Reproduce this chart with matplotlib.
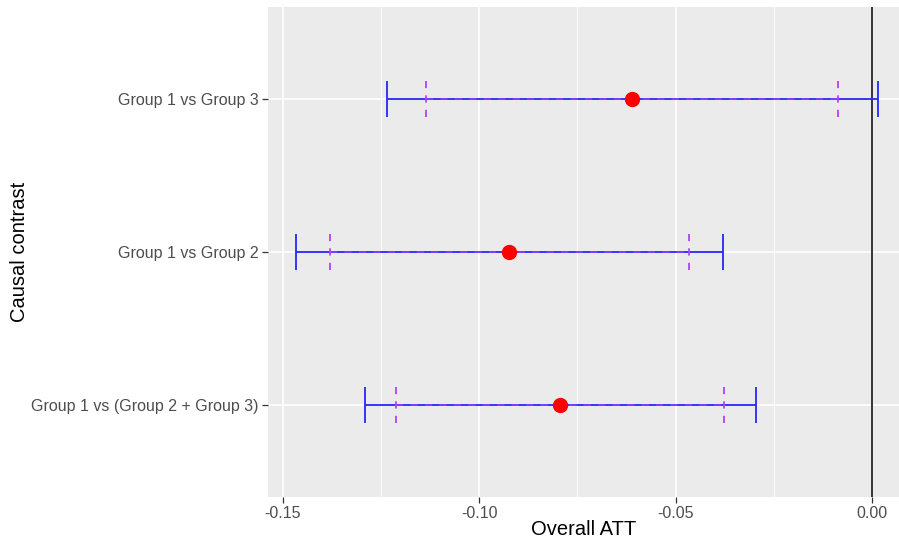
import matplotlib
matplotlib.use("Agg")
import matplotlib.pyplot as plt
import numpy as np

plt.rcParams['font.family'] = ['Liberation Sans', 'DejaVu Sans']

contrasts = ["Group 1 vs (Group 2 + Group 3)", "Group 1 vs Group 2", "Group 1 vs Group 3"]
att = [-0.0794, -0.0923, -0.0611]
ci_low = [-0.1291, -0.1466, -0.1236]
ci_high = [-0.0296, -0.0380, 0.0015]
ci_inner_low = [-0.1212, -0.1380, -0.1135]
ci_inner_high = [-0.0377, -0.0467, -0.0087]
x_ticks = [-0.15, -0.10, -0.05, 0.00]
x_tick_labels = ["-0.15", "-0.10", "-0.05", "0.00"]

fig = plt.figure(figsize=(8.99, 5.42), dpi=100)
ax = fig.add_axes([268/899, 45.5/542, 1 - 268/899, (535 - 45.5)/542])
ax.set_facecolor('#EBEBEB')
for s in ax.spines.values():
    s.set_visible(False)

y = np.arange(1, len(contrasts) + 1)
ax.set_xlim(-0.1538, 0.0069)
ax.set_ylim(0.4, 3.6)

# grid
minor = [-0.125, -0.075, -0.025]
for m in minor:
    ax.axvline(m, color='white', lw=0.6, zorder=0.5)
for t in x_ticks:
    ax.axvline(t, color='white', lw=1.2, zorder=0.6)
for yy in y:
    ax.axhline(yy, color='white', lw=1.2, zorder=0.6)

ax.axvline(0, color='black', lw=1.1, zorder=1)

cap = 0.118
blue = (0.15, 0.15, 1.0)
purple = (0.72, 0.25, 1.0)
ax.hlines(y, ci_low, ci_high, color=blue, lw=1.3, zorder=2)
ax.vlines(ci_low, y - cap, y + cap, color=blue, lw=1.3, zorder=2)
ax.vlines(ci_high, y - cap, y + cap, color=blue, lw=1.3, zorder=2)
ax.hlines(y, ci_inner_low, ci_inner_high, color=purple, lw=1.3, linestyles=(0, (4, 4)), alpha=0.6, zorder=2.5)
ax.vlines(ci_inner_low, y - cap, y + cap, color=purple, lw=1.3, linestyles=(0, (4, 4)), zorder=2.5)
ax.vlines(ci_inner_high, y - cap, y + cap, color=purple, lw=1.3, linestyles=(0, (4, 4)), zorder=2.5)
ax.plot(att, y, 'o', color='red', ms=10, zorder=3)

ax.set_xticks(x_ticks)
ax.set_xticklabels(x_tick_labels)
ax.set_yticks(y)
ax.set_yticklabels(contrasts)
ax.tick_params(axis='both', colors='#333333', length=4, width=0.9, labelsize=11.5,
               labelcolor='#4D4D4D', pad=2.5)

ax.set_xlabel("Overall ATT", fontsize=14.5, color='black', labelpad=-0.5)
ax.set_ylabel("Causal contrast", fontsize=14.5, color='black', labelpad=2)

fig.savefig("out.png", dpi=100)
